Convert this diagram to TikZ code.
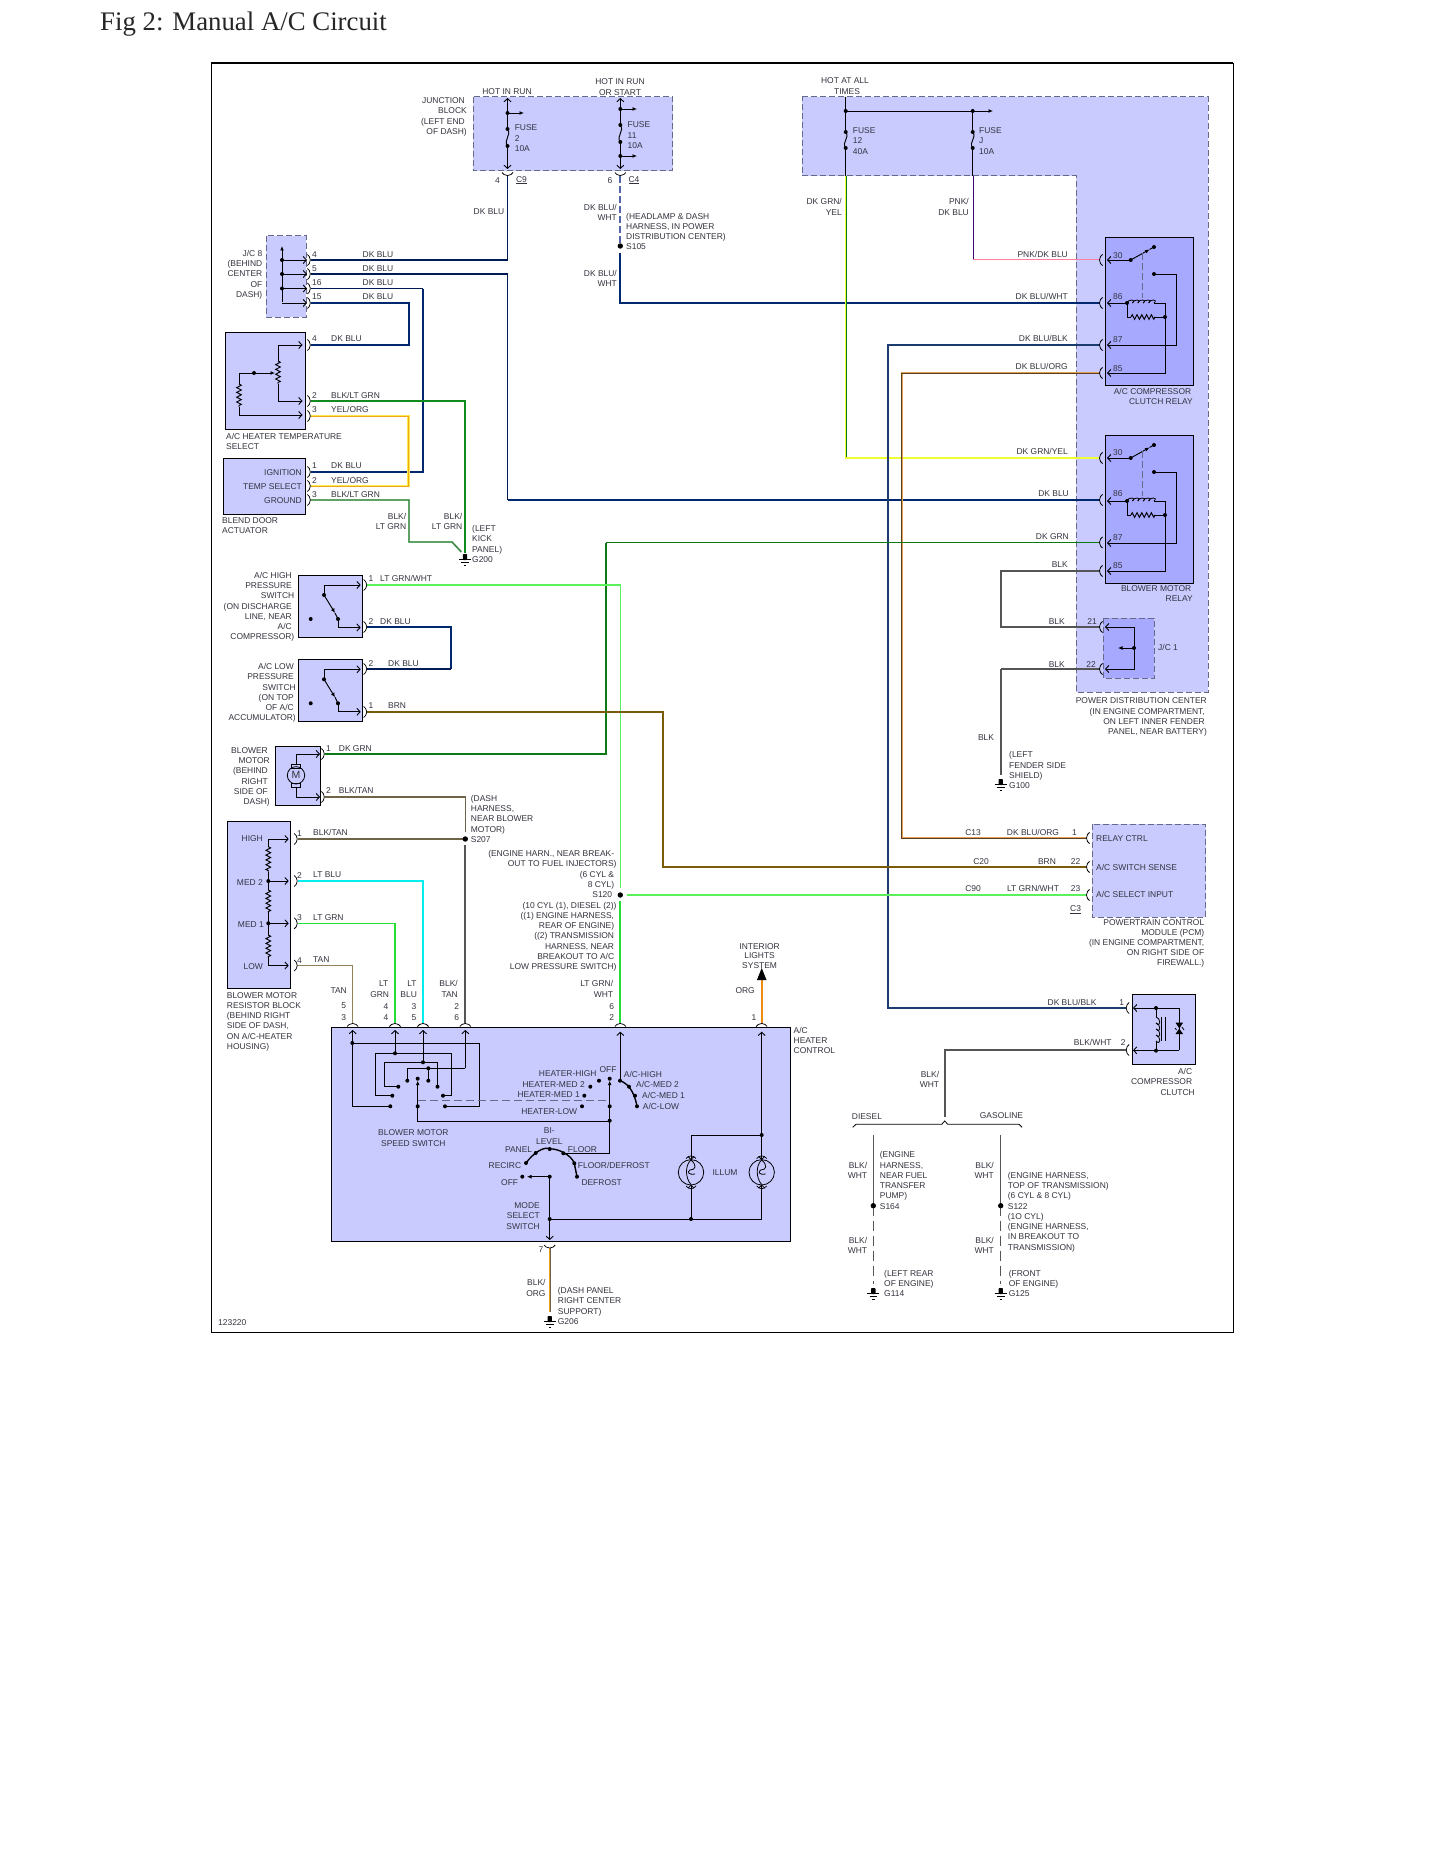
\documentclass[tikz,border=0pt]{standalone}
\usepackage{fontspec}
\setmainfont{Liberation Sans}
\newfontfamily\titlefont{Liberation Serif}
\usetikzlibrary{arrows.meta,decorations.pathmorphing}
\definecolor{pale}{HTML}{C9CBFF}
\definecolor{deep}{HTML}{A7A9FF}
\definecolor{txt}{HTML}{33333F}
\definecolor{navy}{HTML}{00286F}
\definecolor{navyd}{HTML}{001A55}
\definecolor{dkgrn}{HTML}{0A7A14}
\definecolor{blk}{HTML}{555555}
\definecolor{brn}{HTML}{7A5C08}
\definecolor{olive}{HTML}{6E6448}
\definecolor{lgrn}{HTML}{22DD33}
\definecolor{dashc}{HTML}{666A88}
\definecolor{cgrnout}{HTML}{7FD07F}
\definecolor{cgrnin}{HTML}{128A1E}
\definecolor{cyelout}{HTML}{FFE94A}
\definecolor{cyelin}{HTML}{F0A818}
\definecolor{cyel}{HTML}{EEFF33}
\definecolor{cbgout}{HTML}{7AB87A}
\definecolor{cbgin}{HTML}{2F7A3F}
\definecolor{corgout}{HTML}{E0A050}
\definecolor{corgin}{HTML}{5A4020}
\definecolor{cbo}{HTML}{E8A020}
\definecolor{cltg}{HTML}{5CF05C}
\definecolor{cpnk}{HTML}{FF7FA0}
\definecolor{cvio}{HTML}{440077}
\definecolor{corg}{HTML}{F08A10}
\definecolor{cnb}{HTML}{1C3C70}
\definecolor{cdsh}{HTML}{5566A8}
\definecolor{ccy}{HTML}{00EEEE}
\definecolor{ctan}{HTML}{8F8258}
\newcount\tcnt
\newcommand\lblL[3]{\global\advance\tcnt by 1 \node[lbl,anchor=west] (t\the\tcnt) at (#1,#2) {#3};}
\newcommand\lblR[3]{\global\advance\tcnt by 1 \node[lbl,anchor=east] (t\the\tcnt) at (#1,#2) {#3};}
\newcommand\lblC[3]{\global\advance\tcnt by 1 \node[lbl,anchor=center] (t\the\tcnt) at (#1,#2) {#3};}
\newcommand\dt[2]{\fill (#1,#2) circle[radius=2];}
\newcommand\splice[2]{\fill (#1,#2) circle[radius=2.7];}
\newcommand\sockR[2]{\draw[sock] (#1-2,#2-5.5) -- (#1,#2-3.5) .. controls (#1+1.4,#2-1.5) and (#1+1.4,#2+1.5) .. (#1,#2+3.5) -- (#1-2,#2+5.5);}
\newcommand\sockL[2]{\draw[sock] (#1+2,#2-5.5) -- (#1,#2-3.5) .. controls (#1-1.4,#2-1.5) and (#1-1.4,#2+1.5) .. (#1,#2+3.5) -- (#1+2,#2+5.5);}
\newcommand\sockU[2]{\draw[sock] (#1-5.5,#2+2) -- (#1-3.5,#2) .. controls (#1-1.5,#2-1.4) and (#1+1.5,#2-1.4) .. (#1+3.5,#2) -- (#1+5.5,#2+2);}
\newcommand\sockD[2]{\draw[sock] (#1-5.5,#2-2) -- (#1-3.5,#2) .. controls (#1-1.5,#2+1.4) and (#1+1.5,#2+1.4) .. (#1+3.5,#2) -- (#1+5.5,#2-2);}
\newcommand\fusesq[3]{\draw[ckt] (#1,#2) .. controls (#1+4.5,#2+6) and (#1-4.5,#3-6) .. (#1,#3); \dt{#1}{#2}\dt{#1}{#3}}
\newcommand\gnd[2]{\fill[rounded corners=.8] (#1-2.2,#2) rectangle (#1+2.2,#2+6);\draw[line width=1pt] (#1-6,#2+5.5) -- (#1+6,#2+5.5) (#1-3.8,#2+8.5) -- (#1+3.8,#2+8.5) (#1-1.2,#2+11) -- (#1+1.2,#2+11);}
\newcommand\relay[1]{\begin{scope}[shift={(0,#1)}]
\draw[box,fill=deep] (1105,237) rectangle (1193,385);
\draw[ckt,tip] (1130.7,260) -- (1107,260);
\draw[ckt,-{Latex[length=4.5pt,width=4pt]}] (1130.7,260) -- (1149.5,249.5);
\draw[ckt] (1149.5,249.5) -- (1154,247);
\draw[dashc,line width=.8pt,dash pattern=on 7pt off 3pt] (1142.7,253) -- (1142.7,298);
\draw[ckt,tip] (1154,274) -| (1176.7,345) -- (1107,345);
\draw[ckt,tip] (1127,303) -- (1107,303);
\foreach \i in {0,...,4} \draw[line width=.8pt] (1127+\i*5.4,303) .. controls +(.6,-4) and +(4.8,-4) .. +(5.4,0);
\draw[ckt,tip] (1154,303) -| (1165,373) -- (1107,373);
\draw[ckt] (1127,303) |- (1131,317);
\draw[ckt,zz] (1131,317) -- (1155,317);
\draw[ckt] (1155,317) -- (1165,317);
\dt{1127}{303}\dt{1165}{317}\dt{1130.7}{260}\dt{1154}{247}\dt{1154}{274}
\end{scope}}
\newcommand\bulb[1]{\draw[line width=.8pt] (#1,1172.3) circle[radius=12.7];
\draw[sock] (#1-5,1158.5) .. controls (#1-2,1155) and (#1+2,1155) .. (#1+5,1158.5);
\draw[sock] (#1-5,1186) .. controls (#1-2,1189.5) and (#1+2,1189.5) .. (#1+5,1186);
\draw[line width=.8pt,-{Straight Barb[length=3pt,width=6pt]}] (#1,1155) -- (#1,1160);
\draw[line width=.8pt,-{Straight Barb[length=3pt,width=6pt]}] (#1,1190) -- (#1,1184.5);
\draw[line width=.8pt] (#1,1160) .. controls (#1-6,1165) and (#1-6,1178) .. (#1,1184.5);
\draw[line width=.8pt] (#1,1160) .. controls (#1+6,1165) and (#1+5,1170) .. (#1-1,1170) .. controls (#1-4,1172) and (#1-3,1175) .. (#1+4,1174);}
\begin{document}
\begin{tikzpicture}[x=1pt,y=-1pt,
  lbl/.style={font=\fontsize{8.45}{10}\selectfont,text=txt,inner sep=0pt,text height=6.1pt,text depth=0pt},
  box/.style={draw=black,line width=.9pt},
  dbox/.style={draw=dashc,line width=1pt,dash pattern=on 6pt off 3pt},
  ckt/.style={draw=black,line width=.95pt},
  sock/.style={draw=black,line width=.75pt},
  tip/.style={-{Straight Barb[length=3.2pt,width=7pt,line width=.9pt]}},
  zz/.style={decorate,decoration={zigzag,segment length=4.8pt,amplitude=2.3pt}},
  navythin/.style={draw=navyd,line width=1.05pt},
  navythick/.style={draw=navy,line width=2.2pt},
  grn2/.style={draw=cgrnout,line width=2.3pt,postaction={draw=cgrnin,line width=1.1pt}},
  yelorg/.style={draw=cyelout,line width=2.4pt,postaction={draw=cyelin,line width=1pt}},
  grnyel/.style={draw=dkgrn,line width=2.3pt,postaction={draw=cyel,line width=1.1pt}},
  blkgrn/.style={draw=cbgout,line width=1.9pt,postaction={draw=cbgin,line width=.8pt}},
  orgbrn/.style={draw=corgout,line width=1.9pt,postaction={draw=corgin,line width=.9pt}},
  blkorg/.style={draw=olive,line width=2.2pt,postaction={draw=cbo,line width=1pt}},
  ltgrn/.style={draw=cltg,line width=1.3pt},
  thkgrn/.style={draw=lgrn,line width=2.2pt},
  gwire/.style={draw=blk,line width=2.2pt},
  gthin/.style={draw=blk,line width=1.2pt},
  gdash/.style={draw=blk,line width=1.2pt,dash pattern=on 10pt off 5pt},
  tanw/.style={draw=olive,line width=1.4pt}]
\useasboundingbox (0,0) rectangle (1445,1870);
\fill[white] (0,0) rectangle (1445,1870);
\node[font=\titlefont\fontsize{26.8}{30}\selectfont,anchor=base west,inner sep=0pt,text=black!85] (title) at (100,30.5) {Fig 2: Manual A/C Circuit};
% frame
\draw[line width=.9pt] (211,63) -- (211,1332) -- (1233,1332) -- (1233,63);
\draw[line width=2pt] (211,63) -- (1233,63);
% block fills
\draw[dbox,fill=pale] (473,97) rectangle (672.5,171);
\draw[dbox,fill=pale] (802,97) -- (1208,97) -- (1208,692) -- (1076,692) -- (1076,176) -- (802,176) -- cycle;
\draw[dbox,fill=pale] (1092,824) rectangle (1205.6,917);
\draw[dbox,fill=pale] (266.4,236) rectangle (306.4,317);
\draw[box,fill=pale] (225.4,332) rectangle (305.7,429);
\draw[box,fill=pale] (223,458) rectangle (305.7,514);
\draw[box,fill=pale] (298.7,575) rectangle (362.7,637);
\draw[box,fill=pale] (298.7,659) rectangle (362.7,721);
\draw[box,fill=pale] (275.7,746.7) rectangle (320.7,805);
\draw[box,fill=pale] (227.3,821.7) rectangle (290.7,988);
\draw[box,fill=pale] (331.3,1027.3) rectangle (790.7,1241);
\draw[box,fill=pale] (1132.3,994.3) rectangle (1195.7,1064.3);
\draw[dbox,fill=deep] (1103,618) rectangle (1154,678);
% pins and corners
\foreach \n/\x/\y in {jc4/310.5/260,jc5/310.5/274,jc16/310.5/288.5,jc15/310.5/303,ts4/310.5/345,ts2/310.5/401,ts3/310.5/416,bd1/310.5/472,bd2/310.5/486,bd3/310.5/500,
 cnine/507.5/176,cfour/620.3/176,sa/620.3/246,sb/620.3/253,
 raA/1099.5/260,raB/1099.5/303,raC/1099.5/345,raD/1099.5/373,rbA/1099.5/458,rbB/1099.5/500,rbC/1099.5/542.5,rbD/1099.5/571,jA/1099.5/627,jB/1099.5/669,
 fA/845.7/176,fB/973/176,hA/367/585,hB/367/627,lA/367/669,lB/367/712,mA/324.5/754,mB/324.5/797,
 rA/297.5/839,rB/297.5/881,rC/297.5/923.3,rD/297.5/965.5,
 cA/352.7/1023,cB/395/1023,cC/423/1023,cD/465.3/1023,cE/620.3/1023,cF/761.7/1023,
 sS/465.3/839,sT/465.3/832,sU/465.3/845,sV/620.3/888,sW/620.3/901,sX/627/895,
 gA/465/553,pA/1086/838,pB/1086/867,pC/1086/895,clA/1126/1008,clB/1126/1050,
 kA/507.5/500,kB/423/288.5,kC/409/320,kD/408.6/450,kE/409/542,kF/452/542,kG/461.4/552,
 kH/973/260,kI/887.7/700,kJ/901.7/700,kK/606/542.5,kL/1000.7/600,kM/1000.7/669,gB/1000.7/775,
 kN/450.7/669,kO/663/800,kP/395/923.3,kQ/761.7/978,cG/549.7/1248,gC/549.7/1311.5,kR/944.7/1116.7,
 dA/873.3/1135,dB/873.3/1205.7,dC/873.3/1284,eA/1000.7/1135,eB/1000.7/1205.7,eC/1000.7/1284}
 {\coordinate (\n) at (\x,\y);}
% wires
\draw[navythin] (jc4) -| (cnine);
\draw[navythin] (jc5) -| (kA);
\draw[navythick] (kA) -- (rbB);
\draw[navythin] (jc16) -- (kB);
\draw[navythick] (kB) |- (bd1);
\draw[navythick] (jc15) -| (kC) |- (ts4);
\draw[grn2] (ts2) -| (gA);
\draw[yelorg] (ts3) -| (kD) |- (bd2);
\draw[blkgrn] (bd3) -| (kE) -- (kF) -- (kG);
\draw[draw=cdsh,line width=2.2pt,dash pattern=on 7pt off 3pt] (cfour) -- (sa);
\draw[navythick] (sb) |- (raB);
\draw[grnyel] (fA) |- (rbA);
\draw[draw=cvio,line width=1pt] (fB) -- (kH);
\draw[draw=cpnk,line width=1pt] (kH) -- (raA);
\draw[draw=cnb,line width=2pt] (raC) -| (kI) |- (clA);
\draw[orgbrn] (raD) -| (kJ) |- (pA);
\draw[draw=dkgrn,line width=1pt] (rbC) -- (kK);
\draw[draw=dkgrn,line width=2.2pt] (kK) |- (mA);
\draw[gwire] (rbD) -| (kL) |- (jA);
\draw[gthin] (jB) -- (kM);
\draw[draw=blk,line width=1.7pt] (kM) -- (gB);
\draw[ltgrn] (hA) -| (sV);
\draw[navythick] (hB) -| (kN);
\draw[navythin] (kN) -- (lA);
\draw[draw=brn,line width=2.2pt] (lB) -| (kO) |- (pB);
\draw[tanw] (mB) -| (sT);
\draw[tanw] (rA) -- (sS);
\draw[gwire] (sU) -- (cD);
\draw[draw=ccy,line width=2.2pt] (rB) -| (cC);
\draw[draw=lgrn,line width=1.2pt] (rC) -- (kP);
\draw[thkgrn] (kP) -- (cB);
\draw[draw=ctan,line width=1.5pt] (rD) -| (cA);
\draw[thkgrn] (sW) -- (cE);
\draw[draw=cltg,line width=1.3pt] (sX) -- (pC);
\draw[draw=corg,line width=2.2pt] (cF) -- (kQ);
\fill (761.7,968) -- (766.5,980) -- (756.9,980) -- cycle;
\draw[blkorg] (cG) -- (gC);
\draw[gwire] (clB) -| (kR);
\draw[gthin] (dA) -- (dB);
\draw[gthin] (eA) -- (eB);
\draw[gdash] (dB) -- (dC);
\draw[gdash] (eB) -- (eC);
% sockets
\foreach \y in {260,274,288.5,303,345,401,416,472,486,500} {\sockR{309.3}{\y}}
\foreach \y in {585,627,669,712} {\sockR{365.7}{\y}}
\foreach \y in {754,797} {\sockR{323.3}{\y}}
\foreach \y in {839,881,923.3,965.5} {\sockR{296.2}{\y}}
\foreach \y in {260,303,345,373,458,500,542.5,571,627,669} {\sockL{1100.5}{\y}}
\foreach \y in {838,867,895} {\sockL{1087.5}{\y}}
\foreach \y in {1008,1050} {\sockL{1127.2}{\y}}
\foreach \x in {352.7,395,423,465.3,620.3,761.7} {\sockU{\x}{1024.5}}
\sockD{507.5}{174.5}\sockD{620.3}{174.5}\sockD{549.7}{1247}
% splices and grounds
\splice{620.3}{246}\splice{465.3}{839}\splice{620.3}{895}\splice{873.3}{1205.7}\splice{1000.7}{1205.7}
\gnd{465}{554}\gnd{1000.7}{779}\gnd{549.7}{1316}\gnd{873.3}{1288}\gnd{1000.7}{1288}
% junction block
\draw[ckt,tip] (507.5,113) -- (507.5,98);
\draw[ckt,tip] (507.5,146) -- (507.5,169);
\draw[ckt] (507.5,113) -- (507.5,129);
\draw[ckt,-{Latex[length=4.5pt,width=4pt]}] (507.5,113) -- (524,113);
\fusesq{507.5}{129}{146}\dt{507.5}{113}
\draw[ckt,tip] (620.3,109) -- (620.3,98);
\draw[ckt] (620.3,109) -- (620.3,125);
\draw[ckt,tip] (620.3,142) -- (620.3,169);
\draw[ckt,-{Latex[length=4.5pt,width=4pt]}] (620.3,109) -- (637,109);
\draw[ckt,-{Latex[length=4.5pt,width=4pt]}] (620.3,156) -- (637,156);
\fusesq{620.3}{125}{142}\dt{620.3}{109}\dt{620.3}{156}
% PDC top
\draw[ckt] (845.7,97) -- (845.7,132);
\draw[ckt,-{Latex[length=4.5pt,width=4pt]}] (845.7,111) -- (993,111);
\draw[ckt] (972.7,111) -- (972.7,132);
\fusesq{845.7}{132}{148}\fusesq{972.7}{132}{148}
\draw[ckt] (845.7,148) -- (845.7,176);
\draw[ckt] (972.7,148) -- (972.7,176);
\dt{845.7}{111}\dt{972.7}{111}
\relay{0}\relay{198}
% JC1
\draw[ckt,tip] (1134,648) |- (1105,627);
\draw[ckt,tip] (1134,648) |- (1105,669);
\draw[ckt,-{Latex[length=4.5pt,width=4pt]}] (1134,648) -- (1118,648);
\dt{1134}{648}
% J/C 8
\draw[ckt,-{Latex[length=4.5pt,width=4pt]}] (282,302) -- (282,246);
\foreach \y in {260,274,288.5,303} {\draw[ckt,tip] (282,\y) -- (307,\y);}
\dt{282}{260}\dt{282}{274}\dt{282}{288.5}
% temp select
\draw[ckt,tip] (278,361) |- (302.5,345);
\draw[ckt,zz] (278,361) -- (278,384);
\draw[ckt,tip] (278,384) |- (302.5,401);
\draw[ckt,-{Latex[length=4.5pt,width=4pt]}] (239,384) |- (275,373);
\draw[ckt,zz] (239,384) -- (239,407);
\draw[ckt,tip] (239,407) |- (302.5,415);
\dt{254}{373}
% pressure switches
\foreach \dy in {0,84.3} {\begin{scope}[shift={(0,\dy)}]
\draw[ckt,tip] (324,595) |- (360.7,585);
\draw[ckt,-{Latex[length=4.5pt,width=4pt]}] (324,595) -- (335,613);
\draw[ckt] (335,613) -- (338,619);
\draw[ckt,tip] (338,619) |- (360.7,627.5);
\dt{324}{595}\dt{338}{619}\dt{310.7}{619}
\end{scope}}
% blower motor
\draw[ckt,tip] (296.3,765) |- (320,754);
\draw[ckt,tip] (296.3,787) |- (320,797);
\draw[line width=.8pt] (296,775.3) circle[radius=8.7];
\draw[line width=.8pt] (291.7,764) rectangle (300.7,768.3);
\draw[line width=.8pt] (291.7,783) rectangle (300.7,787.5);
\node[font=\fontsize{10.5}{11}\selectfont,inner sep=0pt,text=txt] (motorM) at (296,775.3) {M};
% resistor block
\draw[ckt,tip] (268.3,846.7) |- (288.7,839);
\draw[ckt,zz] (268.3,846.7) -- (268.3,871.7);
\draw[ckt] (268.3,871.7) -- (268.3,890);
\draw[ckt,zz] (268.3,890) -- (268.3,913);
\draw[ckt] (268.3,913) -- (268.3,935);
\draw[ckt,zz] (268.3,935) -- (268.3,958);
\draw[ckt,tip] (268.3,958) |- (288.7,965.5);
\draw[ckt,tip] (268.3,881) -- (288.7,881);
\draw[ckt,tip] (268.3,923.3) -- (288.7,923.3);
\dt{268.3}{881}\dt{268.3}{923.3}
% control head: blower switch
\draw[ckt,tip] (352.7,1043) -- (352.7,1030);
\draw[ckt,tip] (395,1053.3) -- (395,1030);
\draw[ckt,tip] (423,1062.3) -- (423,1030);
\draw[ckt,tip] (465.3,1068.3) -- (465.3,1030);
\draw[ckt,tip] (620.3,1080.7) -- (620.3,1031.7);
\draw[ckt,tip] (761.7,1135) -- (761.7,1031.7);
\draw[ckt] (390.3,1106.3) -| (352.3,1043) -- (479.3,1043) |- (445,1106.3);
\draw[ckt] (392.3,1095.7) -| (375.7,1053.3) -- (451.7,1053.3) |- (443,1095.7);
\draw[ckt] (398.3,1086.7) -| (384.3,1062.3) -- (437.5,1062.3) -- (437.5,1086.7);
\draw[ckt] (407.3,1080.7) |- (465.3,1068.3);
\draw[ckt] (428.3,1068.3) -- (428.3,1080.7);
\draw[ckt,-{Latex[length=4.5pt,width=4pt]}] (417.7,1106.3) -- (417.7,1080.7);
\draw[ckt] (417.7,1106.3) |- (609.7,1121);
\draw[dashc,line width=.8pt,dash pattern=on 8pt off 4pt] (417.7,1100.3) -- (609.7,1100.3);
\foreach \x/\y in {352.3/1043,390.3/1106.3,445/1106.3,395/1053.3,392.3/1095.7,443/1095.7,423/1062.3,398.3/1086.7,437.5/1086.7,428.3/1068.3,407.3/1080.7,428.3/1080.7,417.7/1078.7,417.7/1106.3,609.7/1078.7,609.7/1106.3,609.7/1120.7,599/1080.7,590.3/1086.7,584.3/1095.7,582/1106.3,620/1080.7,629/1086.7,635/1095.7,637/1106.3} {\dt{\x}{\y}}
\draw[ckt,-{Latex[length=4.5pt,width=4pt]}] (609.7,1106.3) -- (609.7,1080.7);
\draw[ckt] (609.7,1106.3) |- (563.3,1153.3);
\draw[line width=1.4pt] (620,1080.7) .. controls (627,1083) and (634,1090) .. (637,1106.3);
% mode switch
\draw[line width=1.4pt] (526,1163) .. controls (534,1152) and (545,1146) .. (549.7,1149) .. controls (556,1148) and (571,1154) .. (574.3,1163.3) -- (577,1176.7);
\foreach \x/\y in {526/1163,535.7/1153,549.7/1149,563.3/1153.3,574.3/1163.3,577/1176.7,522.3/1176.7,549.7/1176.7,549.7/1219,691/1219,761.7/1135} {\dt{\x}{\y}}
\draw[ckt,-{Latex[length=4.5pt,width=4pt]}] (549.7,1176.7) -- (527,1176.7);
\draw[ckt,tip] (549.7,1176.7) -- (549.7,1240);
\draw[ckt] (549.7,1219) -- (761.7,1219) -- (761.7,1190);
\draw[ckt] (691,1219) -- (691,1190);
\draw[ckt] (761.7,1135) -- (691,1135) -- (691,1155);
\draw[ckt] (761.7,1135) -- (761.7,1155);
\bulb{691}\bulb{761.7}
% clutch
\draw[ckt,tip] (1179.3,1008) -- (1133,1008);
\draw[ckt,tip] (1179.3,1050.3) -- (1133,1050.3);
\draw[ckt] (1179.3,1008) -- (1179.3,1050.3);
\draw[ckt] (1156,1008) -- (1156,1017);
\draw[ckt] (1156,1041) -- (1156,1050.3);
\foreach \i in {0,...,3} \draw[line width=.8pt] (1156,1017+\i*6) .. controls +(5,.6) and +(5,5.4) .. +(0,6);
\draw[line width=.9pt] (1161.7,1017) -- (1161.7,1040.7) (1165,1017) -- (1165,1040.7);
\fill (1175.5,1022.7) -- (1183,1022.7) -- (1179.3,1028.5) -- cycle;
\fill (1175.5,1034) -- (1183,1034) -- (1179.3,1028.5) -- cycle;
\draw[line width=.8pt] (1175,1028) -- (1176.5,1030) (1182,1027) -- (1184,1030);
\dt{1156}{1008}\dt{1156}{1050.7}
% bracket
\draw[line width=.8pt] (852.7,1127.3) -- (856,1124.3) -- (941.7,1124.3) -- (944.7,1121) -- (947.7,1124.3) -- (1019,1124.3) -- (1022,1127.3);
% ---------- texts
\lblC{507}{91}{HOT IN RUN}\lblC{620}{81}{HOT IN RUN}\lblC{620}{92}{OR START}
\lblR{465}{100}{JUNCTION}\lblR{467}{110}{BLOCK}\lblR{465}{121}{(LEFT END}\lblR{467}{131}{OF DASH)}
\lblL{514.6}{127}{FUSE}\lblL{514.6}{138}{2}\lblL{514.6}{148}{10A}
\lblL{627.5}{124}{FUSE}\lblL{627.5}{135}{11}\lblL{627.5}{145}{10A}
\lblC{497.5}{180}{4}\lblC{521.4}{179}{\underline{C9}}\lblC{610}{180}{6}\lblC{634}{179}{\underline{C4}}
\lblC{489}{211}{DK BLU}\lblR{617}{207}{DK BLU/}\lblR{617}{217}{WHT}
\lblL{626}{216}{(HEADLAMP \& DASH}\lblL{626}{226}{HARNESS, IN POWER}\lblL{626}{236}{DISTRIBUTION CENTER)}\lblL{626}{246}{S105}
\lblR{617}{273}{DK BLU/}\lblR{617}{283}{WHT}
\lblR{262.5}{253}{J/C 8}\lblR{262.5}{263}{(BEHIND}\lblR{262.5}{273}{CENTER}\lblR{262.5}{284}{OF}\lblR{262.5}{294}{DASH)}
\lblL{312}{254}{4}\lblL{312}{268}{5}\lblL{312}{282}{16}\lblL{312}{296}{15}
\lblC{378}{254}{DK BLU}\lblC{378}{268}{DK BLU}\lblC{378}{282}{DK BLU}\lblC{378}{296}{DK BLU}
\lblL{312}{338}{4}\lblL{331}{338}{DK BLU}\lblL{312}{395}{2}\lblL{331}{395}{BLK/LT GRN}\lblL{312}{409}{3}\lblL{331}{409}{YEL/ORG}
\lblL{226}{436}{A/C HEATER TEMPERATURE}\lblL{226}{446}{SELECT}
\lblR{302}{472}{IGNITION}\lblR{302}{486}{TEMP SELECT}\lblR{302}{500}{GROUND}
\lblL{312}{465}{1}\lblL{331}{465}{DK BLU}\lblL{312}{480}{2}\lblL{331}{480}{YEL/ORG}\lblL{312}{494}{3}\lblL{331}{494}{BLK/LT GRN}
\lblL{222}{520}{BLEND DOOR}\lblL{222}{530}{ACTUATOR}
\lblR{406.4}{516}{BLK/}\lblR{406.4}{526}{LT GRN}\lblR{462.5}{516}{BLK/}\lblR{462.5}{526}{LT GRN}
\lblL{472}{528}{(LEFT}\lblL{472}{538}{KICK}\lblL{472}{549}{PANEL)}\lblL{472}{559}{G200}
\lblC{845}{80}{HOT AT ALL}\lblC{847}{91}{TIMES}
\lblL{852.7}{130}{FUSE}\lblL{852.7}{140}{12}\lblL{852.7}{151}{40A}\lblL{979}{130}{FUSE}\lblL{979}{140}{J}\lblL{979}{151}{10A}
\lblR{842}{201}{DK GRN/}\lblR{842}{212}{YEL}\lblR{969}{201}{PNK/}\lblR{969}{212}{DK BLU}
\lblR{1068}{254}{PNK/DK BLU}\lblR{1068}{296}{DK BLU/WHT}\lblR{1068}{338}{DK BLU/BLK}\lblR{1068}{366}{DK BLU/ORG}
\lblR{1068}{451}{DK GRN/YEL}\lblR{1069}{493}{DK BLU}\lblR{1069}{536}{DK GRN}\lblR{1068}{564}{BLK}
\lblL{1113}{255}{30}\lblL{1113}{296}{86}\lblL{1113}{339}{87}\lblL{1113}{368}{85}
\lblL{1113}{452}{30}\lblL{1113}{493}{86}\lblL{1113}{537}{87}\lblL{1113}{565}{85}
\lblR{1191.5}{391}{A/C COMPRESSOR}\lblR{1193}{401}{CLUTCH RELAY}\lblR{1191.5}{588}{BLOWER MOTOR}\lblR{1193}{598}{RELAY}
\lblR{1065}{621}{BLK}\lblR{1065}{664}{BLK}\lblC{1092}{621}{21}\lblC{1091}{664}{22}\lblL{1158}{647}{J/C 1}
\lblC{986}{737}{BLK}
\lblR{1207}{700}{POWER DISTRIBUTION CENTER}\lblR{1205}{711}{(IN ENGINE COMPARTMENT,}\lblR{1205}{721}{ON LEFT INNER FENDER}\lblR{1207}{731}{PANEL, NEAR BATTERY)}
\lblL{1009}{754}{(LEFT}\lblL{1009}{765}{FENDER SIDE}\lblL{1009}{775}{SHIELD)}\lblL{1009}{785}{G100}
\lblR{292}{575}{A/C HIGH}\lblR{292}{585}{PRESSURE}\lblR{294.5}{595}{SWITCH}\lblR{292}{606}{(ON DISCHARGE}\lblR{292}{616}{LINE, NEAR}\lblR{292}{626}{A/C}\lblR{294.5}{636}{COMPRESSOR)}
\lblL{368.5}{578}{1}\lblL{380}{578}{LT GRN/WHT}\lblL{368.5}{621}{2}\lblL{380}{621}{DK BLU}
\lblR{294}{666}{A/C LOW}\lblR{294}{676}{PRESSURE}\lblR{296}{687}{SWITCH}\lblR{294}{697}{(ON TOP}\lblR{294}{707}{OF A/C}\lblR{296}{717}{ACCUMULATOR)}
\lblL{368.5}{663}{2}\lblL{388}{663}{DK BLU}\lblL{368.5}{705}{1}\lblL{388}{705}{BRN}
\lblR{268}{750}{BLOWER}\lblR{270}{760}{MOTOR}\lblR{268}{770}{(BEHIND}\lblR{268}{781}{RIGHT}\lblR{268}{791}{SIDE OF}\lblR{270}{801}{DASH)}
\lblL{326}{748}{1}\lblL{338.7}{748}{DK GRN}\lblL{326}{790}{2}\lblL{338.7}{790}{BLK/TAN}
\lblL{470.7}{798}{(DASH}\lblL{470.7}{808}{HARNESS,}\lblL{470.7}{818}{NEAR BLOWER}\lblL{470.7}{829}{MOTOR)}\lblL{470.7}{839}{S207}
\lblR{263}{838}{HIGH}\lblR{263}{882}{MED 2}\lblR{264}{924}{MED 1}\lblR{263}{966}{LOW}
\lblL{297}{833}{1}\lblL{297}{875}{2}\lblL{297}{917}{3}\lblL{297}{960}{4}
\lblL{313}{832}{BLK/TAN}\lblL{313}{874}{LT BLU}\lblL{313}{917}{LT GRN}\lblL{313}{959}{TAN}
\lblL{226.7}{995}{BLOWER MOTOR}\lblL{226.7}{1005}{RESISTOR BLOCK}\lblL{226.7}{1015}{(BEHIND RIGHT}\lblL{226.7}{1025}{SIDE OF DASH,}\lblL{226.7}{1036}{ON A/C-HEATER}\lblL{226.7}{1046}{HOUSING)}
\lblC{338.7}{990}{TAN}\lblC{343.7}{1005}{5}\lblC{343.7}{1017}{3}
\lblC{383.7}{983}{LT}\lblC{379.7}{994}{GRN}\lblC{386}{1006}{4}\lblC{386}{1017}{4}
\lblC{412}{983}{LT}\lblC{408.7}{994}{BLU}\lblC{414}{1006}{3}\lblC{414}{1017}{5}
\lblR{458}{983}{BLK/}\lblR{458}{994}{TAN}\lblC{456.7}{1006}{2}\lblC{456.7}{1017}{6}
\lblR{613.3}{983}{LT GRN/}\lblR{613.3}{994}{WHT}\lblC{611.7}{1006}{6}\lblC{611.7}{1017}{2}
\lblR{614.3}{853}{(ENGINE HARN., NEAR BREAK-}\lblR{616.7}{863}{OUT TO FUEL INJECTORS)}\lblR{614.3}{874}{(6 CYL \&}\lblR{614.3}{884}{8 CYL)}\lblR{612.3}{894}{S120}
\lblR{616.7}{905}{(10 CYL (1), DIESEL (2))}\lblR{614.3}{915}{((1) ENGINE HARNESS,}\lblR{614.3}{925}{REAR OF ENGINE)}\lblR{614.3}{935}{((2) TRANSMISSION}\lblR{614.3}{946}{HARNESS, NEAR}\lblR{614.3}{956}{BREAKOUT TO A/C}\lblR{616.7}{966}{LOW PRESSURE SWITCH)}
\lblC{759.6}{946}{INTERIOR}\lblC{759.6}{955}{LIGHTS}\lblC{759.6}{965}{SYSTEM}\lblR{755}{990}{ORG}\lblC{754}{1017}{1}
\lblL{793.5}{1030}{A/C}\lblL{793.5}{1040}{HEATER}\lblL{793.5}{1050}{CONTROL}
\lblC{413.3}{1132}{BLOWER MOTOR}\lblC{413.3}{1143}{SPEED SWITCH}
\lblC{608}{1069}{OFF}\lblR{596.7}{1073}{HEATER-HIGH}\lblR{585}{1084}{HEATER-MED 2}\lblR{580}{1094}{HEATER-MED 1}\lblR{577.3}{1111}{HEATER-LOW}
\lblL{623.7}{1074}{A/C-HIGH}\lblL{636}{1084}{A/C-MED 2}\lblL{642}{1095}{A/C-MED 1}\lblL{642.7}{1106}{A/C-LOW}
\lblC{549.3}{1130}{BI-}\lblC{549.3}{1141}{LEVEL}\lblR{532.3}{1149}{PANEL}\lblL{567.7}{1149}{FLOOR}\lblR{521.3}{1165}{RECIRC}\lblL{577.7}{1165}{FLOOR/DEFROST}\lblR{518.3}{1182}{OFF}\lblL{581.3}{1182}{DEFROST}
\lblR{540}{1205}{MODE}\lblR{540}{1215}{SELECT}\lblR{540}{1226}{SWITCH}\lblC{725}{1172}{ILLUM}
\lblC{541}{1249}{7}\lblR{545.7}{1282}{BLK/}\lblR{545.7}{1293}{ORG}
\lblL{557.7}{1290}{(DASH PANEL}\lblL{557.7}{1300}{RIGHT CENTER}\lblL{557.7}{1311}{SUPPORT)}\lblL{557.7}{1321}{G206}
\lblL{218}{1322.5}{123220}
\lblC{973}{832}{C13}\lblC{1033}{832}{DK BLU/ORG}\lblC{1074.5}{832}{1}
\lblC{981}{861}{C20}\lblC{1047}{861}{BRN}\lblC{1075.6}{861}{22}
\lblC{973}{888.5}{C90}\lblC{1033}{888.5}{LT GRN/WHT}\lblC{1075.6}{888.5}{23}\lblC{1075.6}{908.7}{\underline{C3}}
\lblL{1096}{838}{RELAY CTRL}\lblL{1096}{867}{A/C SWITCH SENSE}\lblL{1096}{894.5}{A/C SELECT INPUT}
\lblR{1204.4}{922}{POWERTRAIN CONTROL}\lblR{1204.4}{932}{MODULE (PCM)}\lblR{1204.4}{942}{(IN ENGINE COMPARTMENT,}\lblR{1204.4}{952}{ON RIGHT SIDE OF}\lblR{1204.4}{962.5}{FIREWALL.)}
\lblR{1096.7}{1002}{DK BLU/BLK}\lblC{1121.7}{1002}{1}\lblR{1111.7}{1042.7}{BLK/WHT}\lblC{1123.3}{1042.7}{2}
\lblR{1192.3}{1071}{A/C}\lblR{1192.3}{1081}{COMPRESSOR}\lblR{1195}{1092}{CLUTCH}
\lblR{939.3}{1074}{BLK/}\lblR{939.3}{1084.7}{WHT}
\lblL{851.7}{1116}{DIESEL}\lblL{979.7}{1115}{GASOLINE}
\lblR{867.3}{1165}{BLK/}\lblR{867.3}{1175}{WHT}\lblR{867.3}{1240}{BLK/}\lblR{867.3}{1250.7}{WHT}
\lblR{994}{1165}{BLK/}\lblR{994}{1175}{WHT}\lblR{994}{1240}{BLK/}\lblR{994}{1250.7}{WHT}
\lblL{879.7}{1154}{(ENGINE}\lblL{879.7}{1165}{HARNESS,}\lblL{879.7}{1175}{NEAR FUEL}\lblL{879.7}{1185}{TRANSFER}\lblL{879.7}{1195}{PUMP)}\lblL{879.7}{1206}{S164}
\lblL{1007.7}{1175}{(ENGINE HARNESS,}\lblL{1007.7}{1185}{TOP OF TRANSMISSION)}\lblL{1007.7}{1195}{(6 CYL \& 8 CYL)}\lblL{1007.7}{1206}{S122}\lblL{1007.7}{1216}{(1O CYL)}\lblL{1007.7}{1226}{(ENGINE HARNESS,}\lblL{1007.7}{1236}{IN BREAKOUT TO}\lblL{1007.7}{1247}{TRANSMISSION)}
\lblL{884}{1273}{(LEFT REAR}\lblL{884}{1283}{OF ENGINE)}\lblL{884}{1293}{G114}
\lblL{1008.7}{1273}{(FRONT}\lblL{1008.7}{1283}{OF ENGINE)}\lblL{1008.7}{1293}{G125}
\end{tikzpicture}
\end{document}
